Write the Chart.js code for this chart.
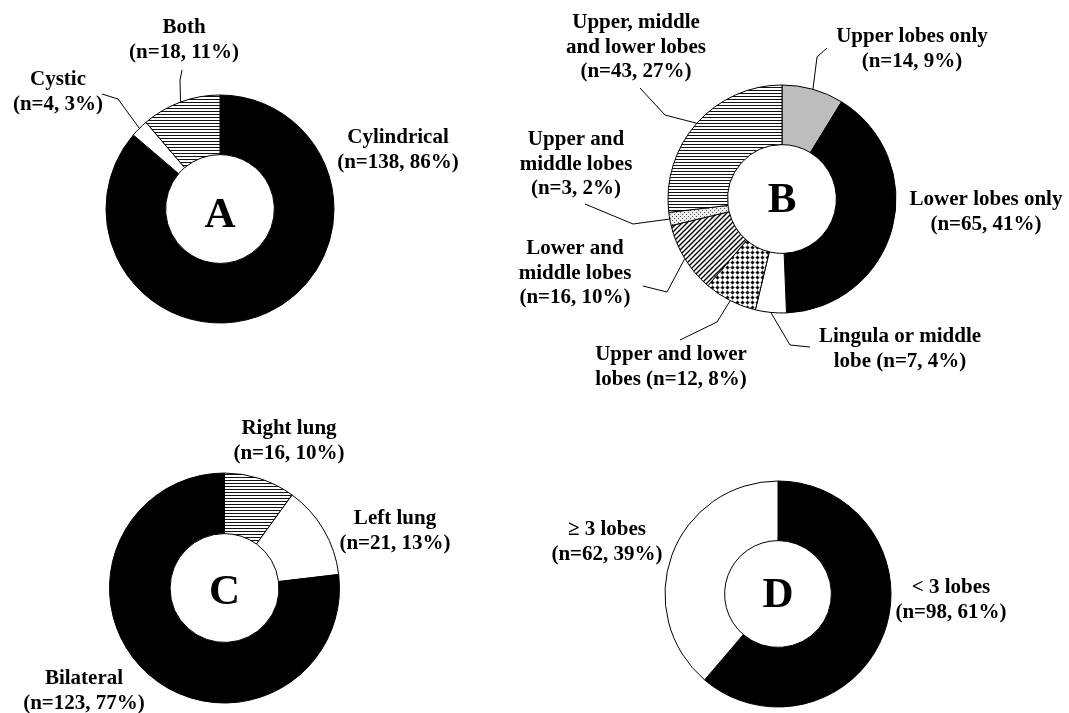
<!DOCTYPE html>
<html>
<head>
<meta charset="utf-8">
<title>Bronchiectasis distribution</title>
<script src="https://cdn.jsdelivr.net/npm/chart.js@4.4.1/dist/chart.umd.min.js"></script>
<style>
  html, body { margin: 0; padding: 0; background: #fff; }
  #page { position: relative; width: 1069px; height: 713px; overflow: hidden; background: #fff; }
  #page canvas { position: absolute; left: 0; top: 0; pointer-events: none; }
</style>
</head>
<body>
<div id="page">
  <canvas id="chartA" width="1069" height="713"></canvas>
  <canvas id="chartB" width="1069" height="713"></canvas>
  <canvas id="chartC" width="1069" height="713"></canvas>
  <canvas id="chartD" width="1069" height="713"></canvas>
</div>
<script>
// A: morphologic type
const typeLabels = ["Cylindrical", "Cystic", "Both"];
const typeCounts = [138, 4, 18];
const typePercents = [86, 3, 11];

// B: lobar involvement
const lobeLabels = ["Upper lobes only", "Lower lobes only", "Lingula or middle lobe",
  "Upper and lower lobes", "Lower and middle lobes", "Upper and middle lobes",
  "Upper, middle and lower lobes"];
const lobeCounts = [14, 65, 7, 12, 16, 3, 43];
const lobePercents = [9, 41, 4, 8, 10, 2, 27];

// C: laterality
const sideLabels = ["Right lung", "Left lung", "Bilateral"];
const sideCounts = [16, 21, 123];
const sidePercents = [10, 13, 77];

// D: number of lobes involved
const extentLabels = ["< 3 lobes", "\u2265 3 lobes"];
const extentCounts = [98, 62];
const extentPercents = [61, 39];

const W = 1069, H = 713;
const LABEL_FONT = 'bold 21px "Liberation Serif", "Times New Roman", serif';
const LETTER_FONT = 'bold 43px "Liberation Serif", "Times New Roman", serif';
const LINE_H = 24.5;

// small repeating tiles for the hatched segments
function makePattern(size, paint) {
  const c = document.createElement("canvas");
  c.width = size; c.height = size;
  const g = c.getContext("2d");
  paint(g, size);
  return g.createPattern(c, "repeat");
}
const hStripes = makePattern(3, (g) => {
  g.fillStyle = "#fff"; g.fillRect(0, 0, 3, 3);
  g.fillStyle = "#111"; g.fillRect(0, 0, 3, 1);
});
const diagStripes = makePattern(5, (g, s) => {
  g.fillStyle = "#fff"; g.fillRect(0, 0, s, s);
  g.strokeStyle = "#000"; g.lineWidth = 1.4;
  g.beginPath();
  g.moveTo(-1, s + 1); g.lineTo(s + 1, -1);
  g.moveTo(-1, 1); g.lineTo(1, -1);
  g.moveTo(s - 1, s + 1); g.lineTo(s + 1, s - 1);
  g.stroke();
});
const dotLattice = makePattern(5, (g, s) => {
  g.fillStyle = "#fff"; g.fillRect(0, 0, s, s);
  g.strokeStyle = "#666"; g.lineWidth = 0.6;
  g.beginPath();
  g.moveTo(0, 2.5); g.lineTo(s, 2.5);
  g.moveTo(2.5, 0); g.lineTo(2.5, s);
  g.stroke();
  g.fillStyle = "#000";
  g.beginPath(); g.arc(2.5, 2.5, 1.5, 0, Math.PI * 2); g.fill();
});
const fineDots = makePattern(4, (g) => {
  g.fillStyle = "#eee"; g.fillRect(0, 0, 4, 4);
  g.fillStyle = "#555";
  g.fillRect(0, 0, 1, 1); g.fillRect(2, 2, 1, 1);
});

// label placement: words per line, first line centre, optional leader waypoints
const layouts = {
  A: { cx: 220, cy: 209, R: 114, r: 57, letter: "A", letterDy: 5,
    fills: ["#000", "#fff", hStripes],
    labels: [
      { x: 398, y: 138, words: [1, 2] },
      { x: 58, y: 80, words: [1, 2], leader: [[118, 99], [102, 94]] },
      { x: 184, y: 28, words: [1, 2], leader: [[180, 80], [182, 70]] }
    ] },
  B: { cx: 782, cy: 199, R: 114, r: 57, letter: "B", letterDy: 0,
    fills: ["#bdbdbd", "#000", "#fff", dotLattice, diagStripes, fineDots, hStripes],
    labels: [
      { x: 912, y: 37, words: [3, 2], leader: [[817, 57], [827, 48]] },
      { x: 986, y: 200, words: [3, 2] },
      { x: 900, y: 337, words: [3, 3], leader: [[790, 345], [810, 347]] },
      { x: 671, y: 355, words: [3, 3], leader: [[717, 322], [680, 340]] },
      { x: 575, y: 249, words: [2, 2, 2], leader: [[667, 292], [643, 286]] },
      { x: 576, y: 140, words: [2, 2, 2], leader: [[633, 224], [585, 204]] },
      { x: 636, y: 23, words: [2, 3, 2], leader: [[665, 115], [640, 88]] }
    ] },
  C: { cx: 224.5, cy: 588, R: 115, r: 57, letter: "C", letterDy: 3,
    fills: [hStripes, "#fff", "#000"],
    labels: [
      { x: 289, y: 429, words: [2, 2] },
      { x: 395, y: 519, words: [2, 2] },
      { x: 84, y: 679, words: [1, 2] }
    ] },
  D: { cx: 778, cy: 594, R: 113, r: 56, letter: "D", letterDy: 0,
    fills: ["#000", "#fff"],
    labels: [
      { x: 951, y: 588, words: [3, 2] },
      { x: 607, y: 530, words: [3, 2] }
    ] }
};

function splitLines(text, counts) {
  const words = text.split(" ");
  const lines = [];
  let k = 0;
  counts.forEach((n) => { lines.push(words.slice(k, k + n).join(" ")); k += n; });
  return lines;
}

const annotate = {
  id: "annotate",
  afterDatasetsDraw(chart) {
    const lay = chart.options.plugins.annotate;
    const ctx = chart.ctx;
    const arcs = chart.getDatasetMeta(0).data;
    const names = chart.data.labels;
    const counts = chart.data.datasets[0].data;
    const pcts = lay.percents;
    ctx.save();
    ctx.strokeStyle = "#000";
    ctx.lineWidth = 1;
    lay.labels.forEach((lb, i) => {
      if (lb.leader) {
        const a = arcs[i];
        const mid = (a.startAngle + a.endAngle) / 2;
        ctx.beginPath();
        ctx.moveTo(a.x + Math.cos(mid) * a.outerRadius, a.y + Math.sin(mid) * a.outerRadius);
        lb.leader.forEach((p) => ctx.lineTo(p[0], p[1]));
        ctx.stroke();
      }
      const text = names[i] + " (n=" + counts[i] + ", " + pcts[i] + "%)";
      ctx.fillStyle = "#000";
      ctx.font = LABEL_FONT;
      ctx.textAlign = "center";
      ctx.textBaseline = "middle";
      splitLines(text, lb.words).forEach((line, j) => {
        ctx.fillText(line, lb.x, lb.y + j * LINE_H);
      });
    });
    const a0 = arcs[0];
    ctx.font = LETTER_FONT;
    ctx.fillText(lay.letter, a0.x, a0.y + 2 + lay.letterDy);
    ctx.restore();
  }
};

function drawDonut(id, key, labels, counts, percents) {
  const lay = layouts[key];
  const s = lay.R + 6;
  return new Chart(document.getElementById(id), {
    type: "doughnut",
    data: {
      labels: labels,
      datasets: [{
        data: counts,
        backgroundColor: lay.fills,
        borderColor: "#000",
        borderWidth: 1
      }]
    },
    options: {
      responsive: false,
      animation: false,
      events: [],
      radius: lay.R,
      cutout: lay.r,
      layout: {
        padding: { left: lay.cx - s, right: W - lay.cx - s, top: lay.cy - s, bottom: H - lay.cy - s }
      },
      plugins: {
        legend: { display: false },
        tooltip: { enabled: false },
        annotate: { labels: lay.labels, letter: lay.letter, letterDy: lay.letterDy, percents: percents }
      }
    },
    plugins: [annotate]
  });
}

drawDonut("chartA", "A", typeLabels, typeCounts, typePercents);
drawDonut("chartB", "B", lobeLabels, lobeCounts, lobePercents);
drawDonut("chartC", "C", sideLabels, sideCounts, sidePercents);
drawDonut("chartD", "D", extentLabels, extentCounts, extentPercents);
</script>
</body>
</html>
